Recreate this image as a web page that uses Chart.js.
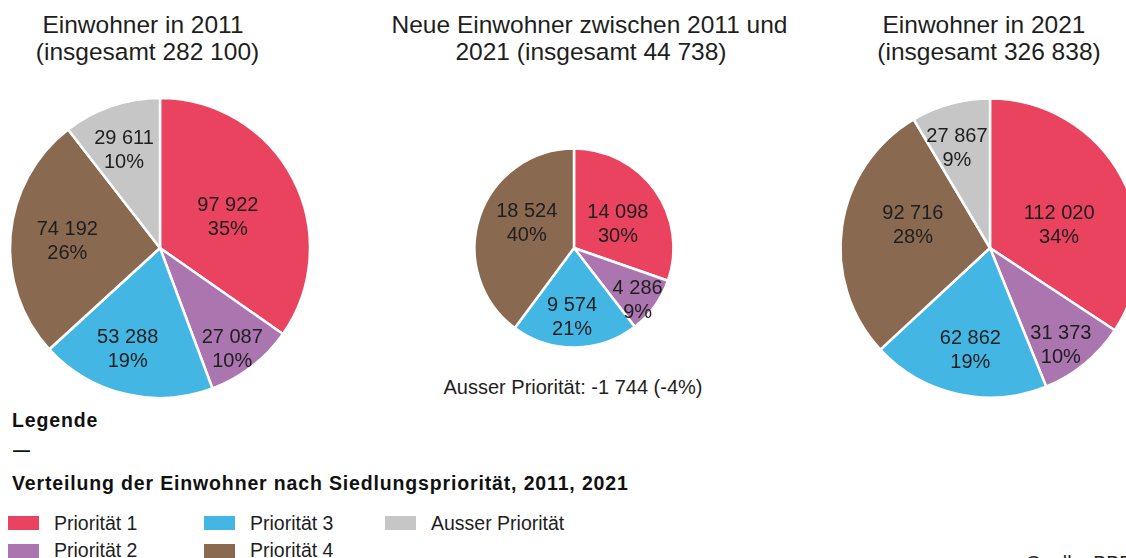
<!DOCTYPE html>
<html>
<head>
<meta charset="utf-8">
<script src="https://cdn.jsdelivr.net/npm/chart.js@4/dist/chart.umd.min.js"></script>
<style>
  html, body { margin: 0; padding: 0; background: #fff; overflow: hidden; width: 1126px; height: 558px; }
  body { position: relative; font-family: "Liberation Sans", Arial, sans-serif; color: #1e1e1e; }
  .t { position: absolute; white-space: nowrap; }
  .title { font-size: 24.5px; line-height: 27px; width: 500px; text-align: center; }
  .bold { font-weight: bold; font-size: 19.5px; line-height: 19.5px; letter-spacing: 0.85px; color: #111; }
  .leg { font-size: 19.5px; line-height: 19.5px; }
  .sw { position: absolute; width: 31px; height: 14px; }
  canvas { position: absolute; }
</style>
</head>
<body>

<canvas id="pie2011" width="320" height="320" style="left:0px;top:88px;"></canvas>
<canvas id="pieNeu" width="240" height="240" style="left:454px;top:128px;"></canvas>
<canvas id="pie2021" width="320" height="320" style="left:830px;top:88px;"></canvas>

<div id="overlay"></div>

<script>
/* ================================================
   DATA
================================================ */

const categories = ['Priorität 1', 'Priorität 2', 'Priorität 3', 'Priorität 4', 'Ausser Priorität'];
const colors     = ['#e9435f', '#ab75af', '#44b6e3', '#8a6951', '#c6c6c6'];

const values2011 = [97922, 27087, 53288, 74192, 29611];
const valuesNeu  = [14098, 4286, 9574, 18524];
const values2021 = [112020, 31373, 62862, 92716, 27867];

const titles2011 = ['Einwohner in 2011', '(insgesamt 282 100)'];
const titlesNeu  = ['Neue Einwohner zwischen 2011 und', '2021 (insgesamt 44 738)'];
const titles2021 = ['Einwohner in 2021', '(insgesamt 326 838)'];

const ausserNote = 'Ausser Priorität: -1 744 (-4%)';

/* ================================================
   HELPERS
================================================ */

function fmt(v) {
  return String(v).replace(/\B(?=(\d{3})+(?!\d))/g, ' ');
}

/* label placement per slice: [radius fraction, angle shift in deg] */
const sliceLabels = {
  id: 'sliceLabels',
  afterDatasetsDraw(chart, args, opts) {
    const ctx  = chart.ctx;
    const meta = chart.getDatasetMeta(0);
    const data = chart.data.datasets[0].data;
    const total = data.reduce((a, b) => a + b, 0);
    ctx.save();
    ctx.font = opts.font;
    ctx.fillStyle = opts.color;
    ctx.textAlign = 'center';
    ctx.textBaseline = 'alphabetic';
    meta.data.forEach((arc, i) => {
      const p = arc.getProps(['x', 'y', 'startAngle', 'endAngle', 'outerRadius'], true);
      const [rf, da] = opts.place[i] || [0.6, 0];
      const a = (p.startAngle + p.endAngle) / 2 + da * Math.PI / 180;
      const r = p.outerRadius * rf;
      const x = p.x + Math.cos(a) * r;
      const y = p.y + Math.sin(a) * r;
      ctx.fillText(fmt(data[i]), x, y - opts.gap / 2 + 7);
      ctx.fillText(Math.round(data[i] / total * 100) + '%', x, y + opts.gap / 2 + 7);
    });
    ctx.restore();
  }
};

function buildPie(canvasId, data, radius, place) {
  const canvas = document.getElementById(canvasId);
  return new Chart(canvas.getContext('2d'), {
    type: 'pie',
    data: {
      labels: categories.slice(0, data.length),
      datasets: [{
        data,
        backgroundColor: colors.slice(0, data.length),
        borderColor: '#ffffff',
        borderWidth: 2.5,
        radius,
      }],
    },
    options: {
      responsive: false,
      animation: false,
      layout: { padding: 0 },
      plugins: {
        legend:  { display: false },
        tooltip: { enabled: false },
        sliceLabels: {
          font: '20px "Liberation Sans", Arial, sans-serif',
          color: '#1e1e1e',
          gap: 24,
          place,
        },
      },
    },
    plugins: [sliceLabels],
  });
}

/* ================================================
   TEXT OVERLAY
================================================ */

const overlay = document.getElementById('overlay');

function addText(cls, text, left, top, extra) {
  const d = document.createElement('div');
  d.className = 't ' + cls;
  d.textContent = text;
  d.style.left = left + 'px';
  d.style.top  = top + 'px';
  if (extra) Object.assign(d.style, extra);
  overlay.appendChild(d);
  return d;
}

function addTitle(lines, centers) {
  lines.forEach((line, i) => addText('title', line, centers[i] - 250, 10.7 + i * 27));
}

addTitle(titles2011, [143, 147.5]);
addTitle(titlesNeu,  [589.5, 591]);
addTitle(titles2021, [984, 989]);

addText('title', ausserNote, 573 - 250, 376.5, { fontSize: '20px', lineHeight: '20px' });

addText('bold', 'Legende', 12, 410.5);
addText('bold', '—', 13, 441.3, { fontSize: '17px', letterSpacing: '0' });
addText('bold', 'Verteilung der Einwohner nach Siedlungspriorität, 2011, 2021', 12, 474.2);

const legCols = [8, 204, 385];
categories.forEach((cat, i) => {
  const col = Math.floor(i / 2), row = i % 2;
  const sw = document.createElement('div');
  sw.className = 'sw';
  sw.style.background = colors[i];
  sw.style.left = legCols[col] + 'px';
  sw.style.top  = (516 + row * 27.5) + 'px';
  overlay.appendChild(sw);
  addText('leg', cat, legCols[col] + 46, 514 + row * 26.8);
});

addText('leg', 'Quelle: BBR', 1026, 554);

/* ================================================
   PIES
================================================ */

buildPie('pie2011', values2011, 150,
  [[0.50, 2.3], [0.82, 1.8], [0.70, 4.4], [0.62, 0], [0.705, -1]]);
buildPie('pieNeu', valuesNeu, 99.5,
  [[0.51, 5.3], [0.82, 3], [0.68, 2.2], [0.54, 10.2]]);
buildPie('pie2021', values2021, 149.5,
  [[0.49, 9], [0.80, 3], [0.69, -1.6], [0.54, 9], [0.71, -2.8]]);
</script>
</body>
</html>
